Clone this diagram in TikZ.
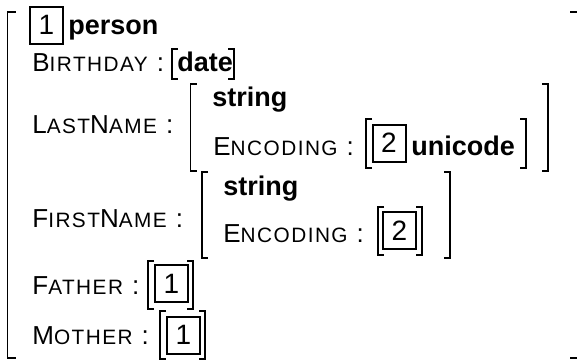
\documentclass[tikz,border=0pt]{standalone}
\usepackage{fontspec}
\setmainfont{Liberation Sans}
\usetikzlibrary{positioning}
\tikzset{
    brk/.style={line width=0.75pt},
    tagbox/.style={draw, line width=1pt, minimum width=16.5pt, minimum height=18.5pt, inner sep=0pt, font=\fontsize{14}{17}\selectfont},
    val/.style={anchor=base west, inner sep=0pt, font=\fontsize{13.5}{16}\selectfont\bfseries},
    atr/.style={anchor=base west, inner sep=0pt, font=\fontsize{13}{15}\selectfont\addfontfeature{LetterSpace=7}},
}
\newcommand{\sml}[1]{{\fontsize{10.4}{12}\selectfont #1}}
% square brackets: left x, top y, right x, bottom y
\newcommand{\sqbr}[5][6]{%
\draw[brk] (#2+#1,#3) -- (#2,#3) -- (#2,#5) -- (#2+#1,#5);
\draw[brk] (#4-#1,#3) -- (#4,#3) -- (#4,#5) -- (#4-#1,#5);
}

\begin{document}
\begin{tikzpicture}[x=0.5pt, y=-0.5pt]
\useasboundingbox (0,0) rectangle (577,360);
% outer matrix
\sqbr[8]{7.5}{12}{578}{358}
% type
\node[tagbox] (tagA) at (46.5,25) {1};
\node[val] (person) at (68,34) {person};
% birthday
\node[atr] (bday) at (32,71) {B\sml{IRTHDAY} :};
\sqbr{172}{49}{234}{79}
\node[val] (date) at (177,71) {date};
% last name
\node[atr] (lname) at (32,133) {L\sml{AST}N\sml{AME} :};
\sqbr{190.5}{84}{548}{171}
\node[val] (lnstr) at (212,106) {string};
\node[atr] (lnenc) at (213,155) {E\sml{NCODING} :};
\sqbr{366}{119}{526}{168}
\node[tagbox] (tagB) at (389,143) {2};
\node[val] (unicode) at (411,155) {unicode};
% first name
\node[atr] (fname) at (32,227) {F\sml{IRST}N\sml{AME} :};
\sqbr{202}{172}{450}{258}
\node[val] (fnstr) at (223,195) {string};
\node[atr] (fnenc) at (223,242) {E\sml{NCODING} :};
\sqbr{378}{207}{422}{255}
\node[tagbox] (tagC) at (399.5,230.5) {2};
% father
\node[atr] (father) at (32,294) {F\sml{ATHER} :};
\sqbr{148}{261}{193}{309}
\node[tagbox] (tagD) at (171.5,283.5) {1};
% mother
\node[atr] (mother) at (32,344) {M\sml{OTHER} :};
\sqbr{160}{311}{205}{359}
\node[tagbox] (tagE) at (183.5,335) {1};
\end{tikzpicture}
\end{document}
